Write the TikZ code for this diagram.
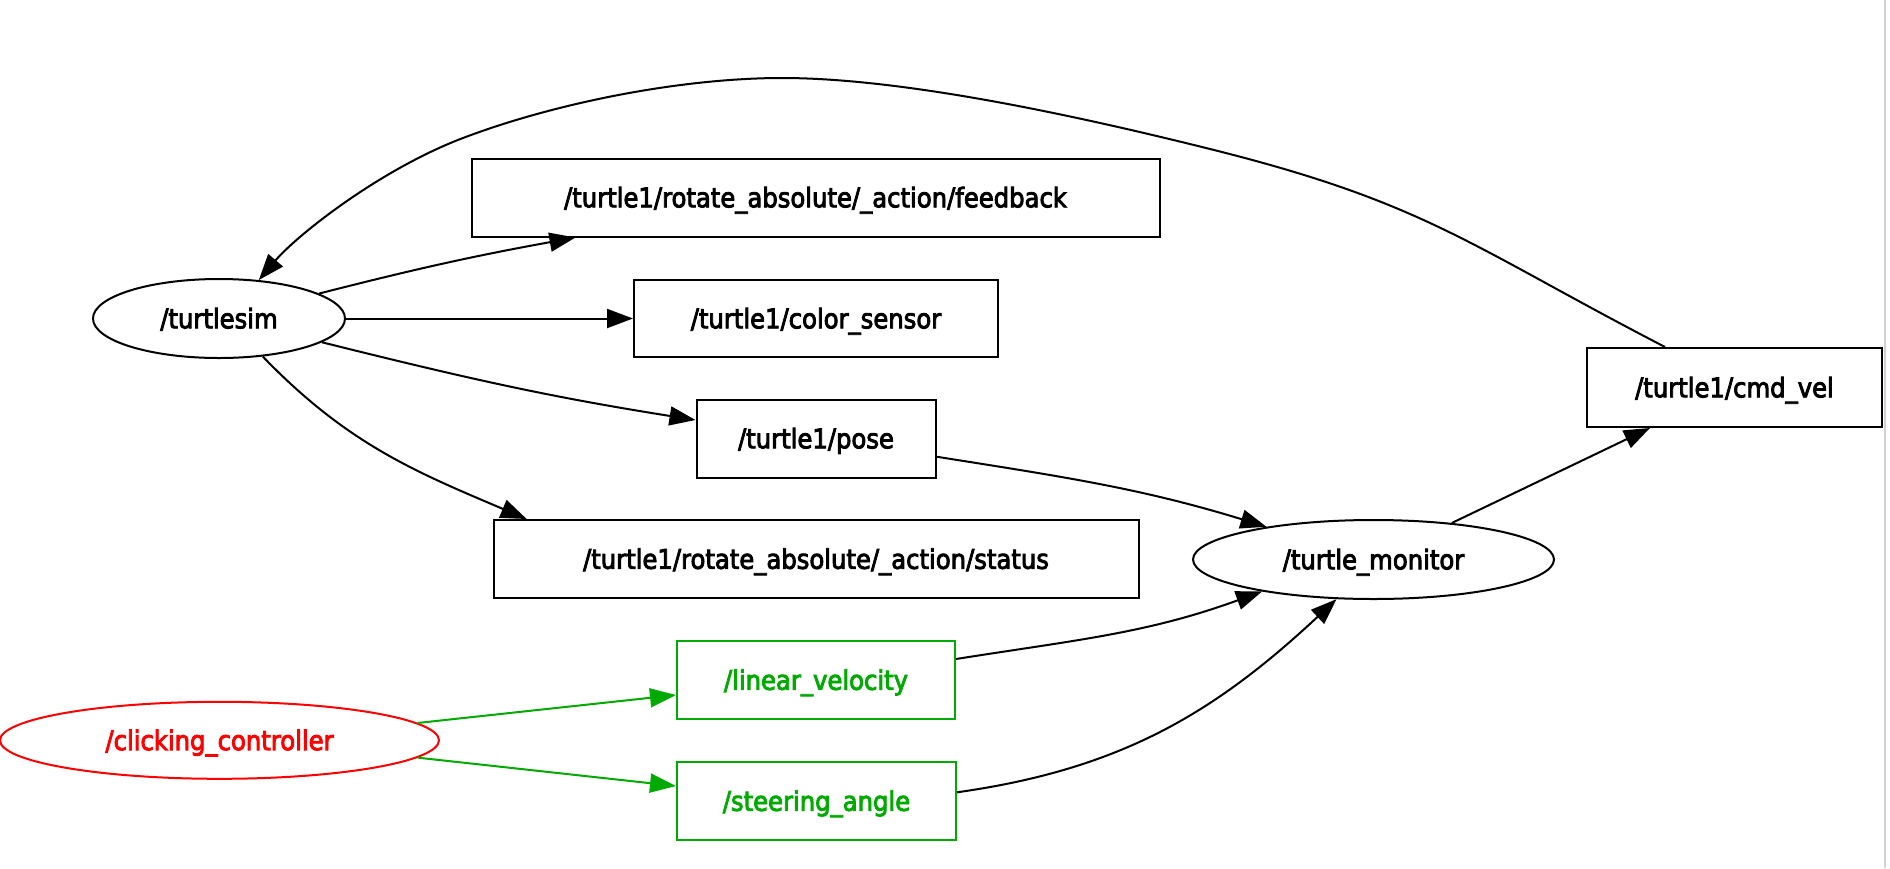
\documentclass[tikz,border=0pt]{standalone}
\usepackage{fontspec}
\setmainfont{DejaVu Sans}[FakeStretch=0.9]
\usetikzlibrary{shapes.geometric,arrows.meta}
\definecolor{topicgreen}{RGB}{0,170,0}
\definecolor{nodered}{RGB}{255,0,0}
\begin{document}
\begin{tikzpicture}[x=1pt,y=1pt,
  base/.style={line width=2pt, inner sep=0pt, font=\fontsize{27pt}{32pt}\selectfont, text height=22pt, text depth=2.4pt,
    execute at begin node={\special{pdf:literal direct 2 Tr 0.85 w}},
    execute at end node={\special{pdf:literal direct 0 Tr}}},
  rosnode/.style={base, draw, ellipse},
  topic/.style={base, draw, rectangle},
  edge/.style={line width=2pt, -{Triangle[length=26pt,width=19pt]}},
  gedge/.style={edge, draw=topicgreen, fill=topicgreen}]
\fill[white] (0,0) rectangle (1890,-868);
\useasboundingbox (0,0) rectangle (1890,-868);
\draw[black!18, line width=1.5pt] (1885,0) -- (1885,-868);

% nodes
\node[rosnode, minimum width=252pt, minimum height=79pt] (turtlesim) at (219,-318.5) {/turtlesim};
\node[rosnode, minimum width=361pt, minimum height=79pt] (monitor) at (1373.5,-559.5) {/turtle\_monitor};
\node[rosnode, draw=nodered, text=nodered, minimum width=439pt, minimum height=77pt] (clicking) at (219.5,-740.3) {/clicking\_controller};

\node[topic, minimum width=688pt, minimum height=78pt] (feedback) at (815.5,-197.5) {/turtle1/rotate\_absolute/\_action/feedback};
\node[topic, minimum width=364pt, minimum height=77pt] (color) at (816,-318.5) {/turtle1/color\_sensor};
\node[topic, minimum width=239pt, minimum height=78pt] (pose) at (816,-438.5) {/turtle1/pose};
\node[topic, minimum width=645pt, minimum height=78pt] (status) at (816,-559) {/turtle1/rotate\_absolute/\_action/status};
\node[topic, draw=topicgreen, text=topicgreen, minimum width=278pt, minimum height=78pt] (linear) at (816,-680) {/linear\_velocity};
\node[topic, draw=topicgreen, text=topicgreen, minimum width=279pt, minimum height=78pt] (steering) at (816.5,-801) {/steering\_angle};
\node[topic, minimum width=295pt, minimum height=79pt] (cmdvel) at (1734.5,-387.5) {/turtle1/cmd\_vel};

% long curve cmd_vel -> turtlesim
\coordinate (c0) at ([xshift=-69.5pt]cmdvel.north);
\coordinate (c1) at (1214,-150);
\coordinate (c2) at (782,-78);
\coordinate (c3) at (463,-138);
\draw[edge] (c0) .. controls (1470,-246) and (1427,-203.5) .. (c1)
  .. controls (1068.5,-113.5) and (900,-78) .. (c2)
  .. controls (682,-78) and (556.5,-102.5) .. (c3)
  .. controls (378.9,-170) and (296.6,-235.6) .. (turtlesim.44.6);

% turtlesim publications
\draw[edge] (turtlesim.14.7) to[bend left=2] ([xshift=-240pt]feedback.south);
\draw[edge] (turtlesim.east) -- (color.west);
\draw[edge] (turtlesim.-13.75) to[out=-14, in=171] ([yshift=18.5pt]pose.west);
\draw[edge] (turtlesim.-41) to[out=-46, in=157] ([xshift=-289.3pt]status.north);

% into turtle_monitor
\draw[edge] ([yshift=-18.2pt]pose.east) to[out=-9, in=163] (monitor.163.2);
\draw[edge] ([yshift=21pt]linear.east) to[out=9, in=-160] (monitor.196.6);
\draw[edge] ([yshift=8.7pt]steering.east) to[out=8, in=-137] (monitor.227.7);

% monitor -> cmd_vel
\draw[edge] (monitor.25.4) -- ([xshift=-84.5pt]cmdvel.south);

% clicking controller
\draw[gedge] (clicking.5.5) -- ([yshift=-15pt]linear.west);
\draw[gedge] (clicking.-5.5) -- ([yshift=15pt]steering.west);
\end{tikzpicture}
\end{document}
